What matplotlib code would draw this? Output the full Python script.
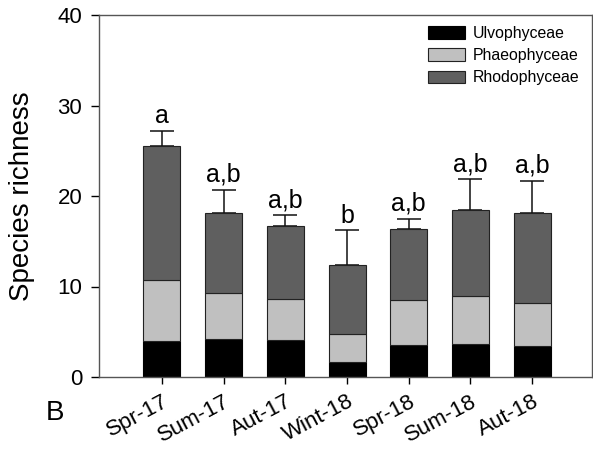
import matplotlib
matplotlib.use("Agg")
import matplotlib.pyplot as plt
import numpy as np

plt.rcParams['font.family'] = ['Liberation Sans', 'DejaVu Sans']

seasons = ["Spr-17", "Sum-17", "Aut-17", "Wint-18", "Spr-18", "Sum-18", "Aut-18"]
ulvophyceae = [4.0, 4.2, 4.1, 1.7, 3.5, 3.7, 3.45]
phaeophyceae = [6.7, 5.05, 4.5, 3.1, 5.0, 5.25, 4.7]
rhodophyceae = [14.8, 8.85, 8.1, 7.6, 7.9, 9.45, 9.95]
total_se = [1.7, 2.6, 1.2, 3.8, 1.1, 3.5, 3.6]
letters = ["a", "a,b", "a,b", "b", "a,b", "a,b", "a,b"]

x = np.arange(len(seasons))
u = np.array(ulvophyceae)
p = np.array(phaeophyceae)
r = np.array(rhodophyceae)
tot = u + p + r
se = np.array(total_se)

fig = plt.figure(figsize=(5.93, 4.49), dpi=100)
ax = fig.add_axes([99/593, 1 - 377/449, (592-99)/593, (377-15)/449])

w = 0.6
ax.bar(x, u, w, color="black", edgecolor="black", linewidth=0.8, label="Ulvophyceae", zorder=2)
ax.bar(x, p, w, bottom=u, color="#c0c0c0", edgecolor="#222222", linewidth=0.8, label="Phaeophyceae", zorder=2)
ax.bar(x, r, w, bottom=u + p, color="#5f5f5f", edgecolor="#222222", linewidth=0.8, label="Rhodophyceae", zorder=2)
ax.errorbar(x, tot, yerr=[np.zeros_like(se), se], fmt="none", ecolor="#111111",
            elinewidth=1.1, capsize=8.5, capthick=1.1, zorder=1)

for xi, t, s, lab in zip(x, tot, se, letters):
    ax.text(xi, t + s + 0.3, lab, ha="center", va="bottom", fontsize=18)

ax.set_xlim(-1.02, 6.97)
ax.set_ylim(0, 40)
ax.set_yticks([0, 10, 20, 30, 40])
ax.set_xticks(x)
ax.set_xticklabels(seasons, rotation=28, ha="right", rotation_mode="anchor", fontsize=16)
ax.tick_params(axis="y", labelsize=16, direction="out", length=6, width=1, pad=6)
ax.tick_params(axis="x", direction="out", length=5, width=1, pad=5)
for sp in ax.spines.values():
    sp.set_color("#555555")
    sp.set_linewidth(1.0)
ax.set_ylabel("Species richness", fontsize=20, labelpad=16)

leg = ax.legend(loc="upper right", frameon=False, fontsize=11.4, handlelength=2.35,
                handleheight=0.85, labelspacing=0.45, handletextpad=0.5,
                borderaxespad=0.3, bbox_to_anchor=(0.997, 1.0))

fig.text(55/593, 1 - 413/449, "B", fontsize=20, ha="center", va="center")

fig.savefig("out.png", dpi=100)
